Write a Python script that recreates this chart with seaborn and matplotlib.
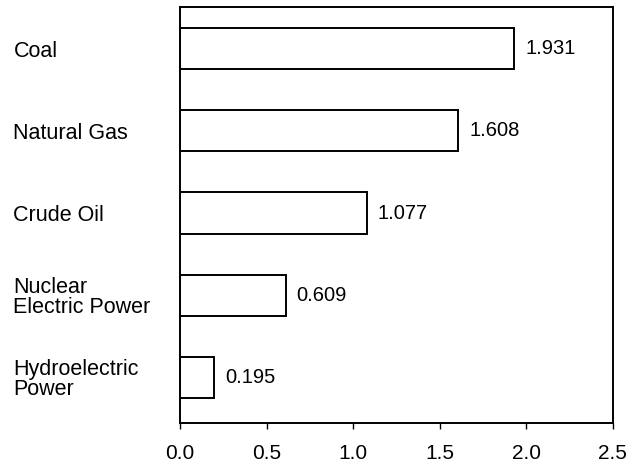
import matplotlib
matplotlib.use("Agg")
import matplotlib.pyplot as plt
import seaborn as sns
import pandas as pd

categories = ["Coal", "Natural Gas", "Crude Oil", "Nuclear\nElectric Power", "Hydroelectric\nPower"]
values = [1.931, 1.608, 1.077, 0.609, 0.195]
value_labels = ["1.931", "1.608", "1.077", "0.609", "0.195"]
xticks = [0.0, 0.5, 1.0, 1.5, 2.0, 2.5]
xtick_labels = ["0.0", "0.5", "1.0", "1.5", "2.0", "2.5"]

sns.set_style("ticks")
plt.rcParams['font.family'] = ['Liberation Sans', 'DejaVu Sans']
plt.rcParams['text.color'] = 'black'
plt.rcParams['xtick.color'] = 'black'
plt.rcParams['ytick.color'] = 'black'

df = pd.DataFrame({"source": categories, "value": values})

fig = plt.figure(figsize=(6.41, 4.67), dpi=100)
ax = fig.add_axes([0.281, 0.094, 0.675, 0.891])

sns.barplot(data=df, x="value", y="source", orient="h", color="white",
            edgecolor="black", linewidth=1.4, width=0.5, saturation=1, ax=ax)

for bar in ax.patches:
    bar.set_facecolor("white")

ax.bar_label(ax.containers[0], labels=value_labels, padding=8, fontsize=14.5, color="black")

ax.set_xlim(0, 2.5)
ax.set_ylim(4.56, -0.51)
ax.set_xticks(xticks)
ax.set_xticklabels(xtick_labels, fontsize=15)
ax.set_xlabel("")
ax.set_ylabel("")

ax.tick_params(axis="x", direction="out", length=4, width=1, pad=11)
ax.tick_params(axis="y", length=0, pad=120)
for lab in ax.get_yticklabels():
    lab.set_horizontalalignment("left")
    lab.set_fontsize(15.5)
    lab.set_linespacing(0.95)

for sp in ax.spines.values():
    sp.set_visible(True)
    sp.set_color("black")
    sp.set_linewidth(1.4)

fig.savefig("out.png", dpi=100, facecolor="white")
